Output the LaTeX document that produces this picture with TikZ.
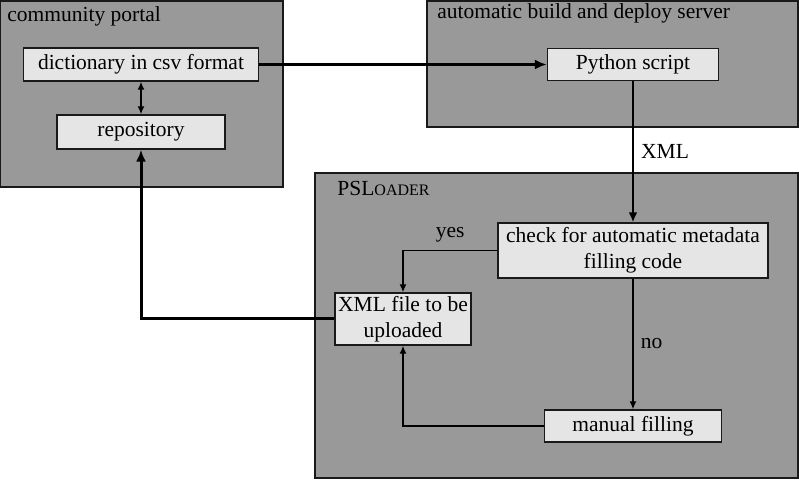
\documentclass[tikz,border=0pt]{standalone}
\usepackage{fontspec}
\setmainfont{Liberation Serif}
\usetikzlibrary{arrows.meta}

\tikzset{
  container/.style={rectangle, fill=black!40, draw=black!90, line width=0.7pt},
  box/.style={rectangle, fill=black!10, draw=black!90, line width=0.7pt,
          inner sep=1pt, align=center},
  title/.style={inner sep=0pt, anchor=base west},
  thin/.style={line width=0.7pt, -{Latex[length=4pt,width=3.5pt]}},
  both/.style={line width=0.7pt,
          {Latex[length=4pt,width=3.5pt]}-{Latex[length=4pt,width=3.5pt]}},
  mid/.style={line width=1pt, -{Latex[length=5pt,width=4.5pt]}},
  thick/.style={line width=1.5pt, -{Latex[length=6pt,width=5pt]}}
}

\begin{document}
\begin{tikzpicture}[x=0.5pt,y=-0.5pt]
\fontsize{10.75pt}{12.75pt}\selectfont
\useasboundingbox (0,0) rectangle (799,480);

\node[container, minimum width=141.5pt, minimum height=93pt] (portal)
          at (141.5,94) {};
\node[container, minimum width=185.5pt, minimum height=63pt] (server)
          at (612.5,64) {};
\node[container, minimum width=241.5pt, minimum height=152.5pt] (loader)
          at (556.5,325.5) {};

\node[title] (portaltitle) at (7,22) {community portal};
\node[title] (servertitle) at (437,19) {automatic build and deploy server};
\node[title] (loadertitle) at (337,196)
          {PSL{\fontsize{8pt}{10pt}\selectfont OADER}};

\node[box, minimum width=117.5pt, minimum height=16.5pt] (dict)
          at (141,64.5) {dictionary in csv format};
\node[box, minimum width=84pt, minimum height=17pt] (repo)
          at (141,132) {repository};
\node[box, minimum width=85.5pt, minimum height=16pt] (python)
          at (633,64.5) {Python script};
\node[box, minimum width=135pt, minimum height=27.5pt] (check)
          at (633,250.5) {check for automatic metadata\\filling code};
\node[box, minimum width=68pt, minimum height=26pt] (xmlfile)
          at (403,319) {XML file to be\\uploaded};
\node[box, minimum width=88.5pt, minimum height=16pt] (manual)
          at (633,426) {manual filling};

\draw[both] (dict) -- (repo);
\draw[thick] (dict) -- (python);
\draw[mid] (python) -- node[right] {XML} (check);
\draw[thin] (check.west) -| node[pos=0.25, above] {yes} (xmlfile.north);
\draw[thin] (check) -- node[right] {no} (manual);
\draw[thin] (manual.west) -| (xmlfile.south);
\draw[thick] (xmlfile.west) -| (repo.south);
\end{tikzpicture}
\end{document}
